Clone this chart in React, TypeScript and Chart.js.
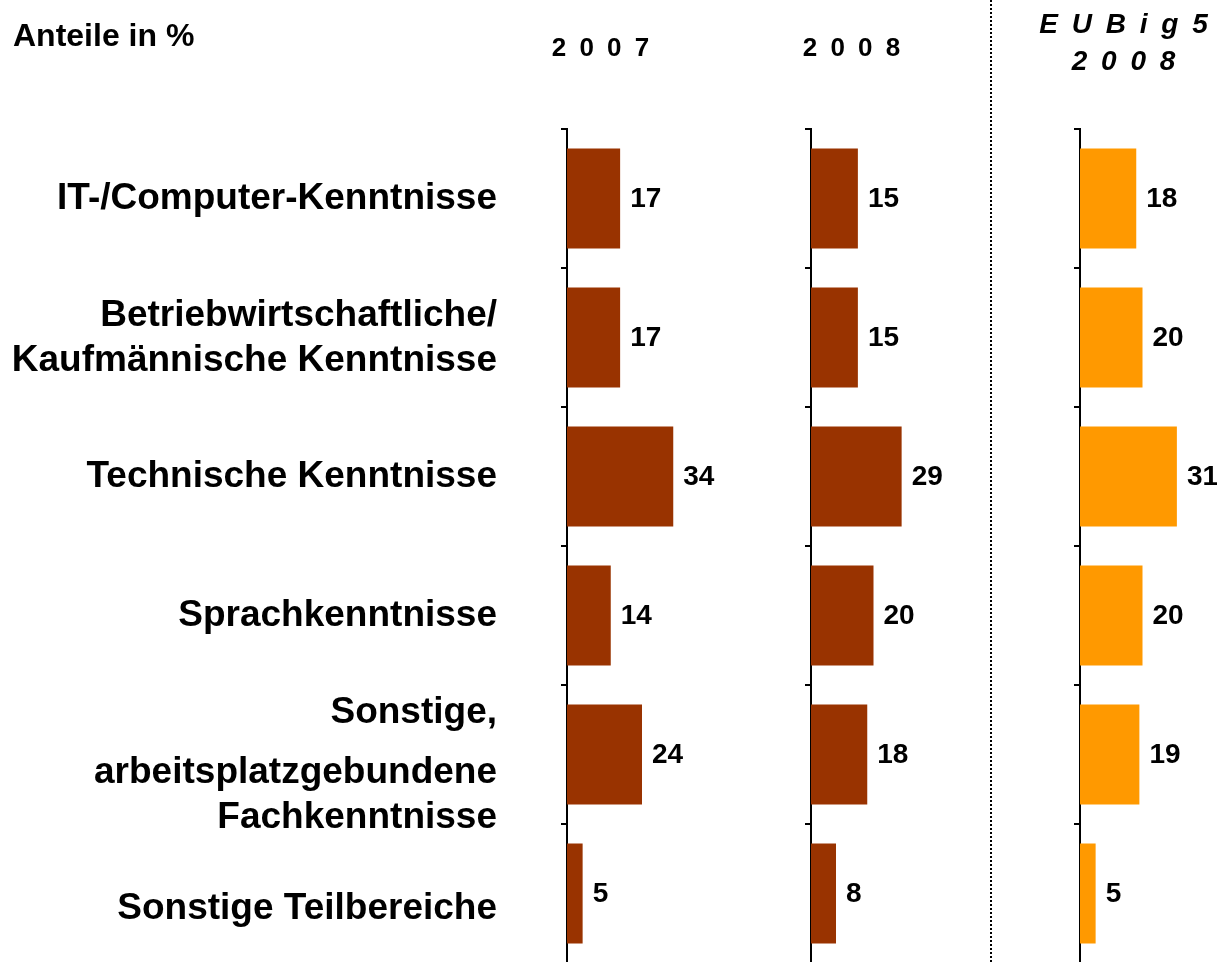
import React, { useEffect, useRef } from "react";
import { Chart, registerables } from "chart.js";

Chart.register(...registerables);

const categories: (string | string[])[] = [
  "IT-/Computer-Kenntnisse",
  ["Betriebwirtschaftliche/", "Kaufmännische Kenntnisse"],
  "Technische Kenntnisse",
  "Sprachkenntnisse",
  ["Sonstige,", "arbeitsplatzgebundene", "Fachkenntnisse"],
  "Sonstige Teilbereiche",
];
const values2007 = [17, 17, 34, 14, 24, 5];
const values2008 = [15, 15, 29, 20, 18, 8];
const valuesEU = [18, 20, 31, 20, 19, 5];

const unitLabel = "Anteile in %";
const header2007 = "2 0 0 7";
const header2008 = "2 0 0 8";
const headerEU1 = "E U B i g 5";
const headerEU2 = "2 0 0 8";

// style: vertical offsets (px) of each label line relative to its category centre
const labelLineOffsets = [[0], [-22, 23], [0], [0], [-42, 18, 63], [15]];

const FONT = "'Liberation Sans', Arial, Helvetica, sans-serif";
const BROWN = "#993300";
const ORANGE = "#FF9900";

const valueLabelPlugin = {
  id: "valueLabels",
  afterDatasetsDraw(chart: any) {
    const ctx = chart.ctx;
    const meta = chart.getDatasetMeta(0);
    const data = chart.data.datasets[0].data;
    ctx.save();
    ctx.font = `bold 28px ${FONT}`;
    ctx.fillStyle = "#000";
    ctx.textAlign = "left";
    ctx.textBaseline = "middle";
    meta.data.forEach((bar: any, i: number) => {
      ctx.fillText(String(data[i]), bar.x + 10, bar.y + 1);
    });
    ctx.restore();
  },
};

const categoryLabelPlugin = {
  id: "categoryLabels",
  afterDraw(chart: any) {
    const opts = chart.options.plugins.categoryLabels;
    if (!opts || !opts.show) return;
    const ctx = chart.ctx;
    const yScale = chart.scales.y;
    const x = chart.chartArea.left - 70;
    ctx.save();
    ctx.font = `bold 37px ${FONT}`;
    ctx.fillStyle = "#000";
    ctx.textAlign = "right";
    ctx.textBaseline = "middle";
    (chart.data.labels as any[]).forEach((lab: any, i: number) => {
      const lines = Array.isArray(lab) ? lab : [lab];
      const yc = yScale.getPixelForValue(i);
      lines.forEach((line: string, j: number) => {
        const off = labelLineOffsets[i]?.[j] ?? 0;
        ctx.fillText(line, x, yc + off);
      });
    });
    ctx.restore();
  },
};

type PanelProps = {
  values: number[];
  color: string;
  showLabels: boolean;
  left: number;
  width: number;
  axisWidth: number;
  padRight: number;
};

function Panel({ values, color, showLabels, left, width, axisWidth, padRight }: PanelProps) {
  const ref = useRef<HTMLCanvasElement | null>(null);
  const height = 972;
  useEffect(() => {
    if (!ref.current) return;
    const chart = new Chart(ref.current, {
      type: "bar",
      data: {
        labels: categories as any,
        datasets: [
          {
            data: values,
            backgroundColor: color,
            borderWidth: 0,
            barPercentage: 0.72,
            categoryPercentage: 1,
          },
        ],
      },
      options: {
        indexAxis: "y",
        animation: false,
        responsive: false,
        maintainAspectRatio: false,
        layout: { padding: { top: 129, bottom: 9, left: 0, right: padRight } },
        plugins: {
          legend: { display: false },
          tooltip: { enabled: false },
          title: { display: false },
          categoryLabels: { show: showLabels },
        } as any,
        scales: {
          x: { display: false, min: 0, max: 40 },
          y: {
            z: 1,
            afterFit: (s: any) => {
              s.width = axisWidth;
            },
            border: { display: true, color: "#000", width: 2 },
            grid: {
              display: true,
              drawOnChartArea: false,
              drawTicks: true,
              tickLength: 6,
              color: "#000",
              lineWidth: 2,
              offset: true,
            },
            ticks: { display: false, autoSkip: false },
          },
        },
      },
      plugins: [valueLabelPlugin, categoryLabelPlugin],
    });
    return () => chart.destroy();
  }, []);
  return (
    <canvas
      ref={ref}
      width={width}
      height={height}
      style={{ position: "absolute", left, top: 0, width, height, display: "block" }}
    />
  );
}

const textBase: React.CSSProperties = {
  position: "absolute",
  fontFamily: FONT,
  fontWeight: "bold",
  color: "#000",
  whiteSpace: "pre",
  lineHeight: 1,
};

export default function App() {
  return (
    <div
      style={{
        position: "fixed",
        left: 0,
        top: 0,
        width: 1217,
        height: 962,
        overflow: "hidden",
        background: "#fff",
      }}
    >
      <Panel values={values2007} color={BROWN} showLabels={true} left={0} width={780} axisWidth={567} padRight={88} />
      <Panel values={values2008} color={BROWN} showLabels={false} left={780} width={210} axisWidth={31} padRight={54} />
      <Panel values={valuesEU} color={ORANGE} showLabels={false} left={1000} width={217} axisWidth={80} padRight={12} />
      <div style={{ ...textBase, left: 13, top: 19, fontSize: 32 }}>{unitLabel}</div>
      <div style={{ ...textBase, left: 502, width: 200, textAlign: "center", top: 34, fontSize: 26, letterSpacing: "3px" }}>
        {header2007}
      </div>
      <div style={{ ...textBase, left: 753, width: 200, textAlign: "center", top: 34, fontSize: 26, letterSpacing: "3px" }}>
        {header2008}
      </div>
      <div
        style={{ ...textBase, left: 1025, width: 200, textAlign: "center", top: 10, fontSize: 28, fontStyle: "italic", letterSpacing: "3px" }}
      >
        {headerEU1}
      </div>
      <div
        style={{ ...textBase, left: 1025, width: 200, textAlign: "center", top: 47, fontSize: 28, fontStyle: "italic", letterSpacing: "3px" }}
      >
        {headerEU2}
      </div>
      <div
        style={{
          position: "absolute",
          left: 990,
          top: 0,
          width: 2,
          height: 962,
          background: "repeating-linear-gradient(to bottom, #000 0px, #000 2px, transparent 2px, transparent 4px)",
        }}
      />
    </div>
  );
}
